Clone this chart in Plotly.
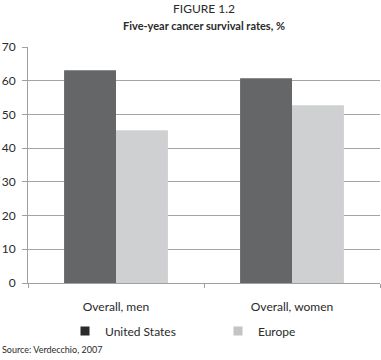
import plotly.graph_objects as go

categories = ["Overall, men", "Overall, women"]
us_values = [63.1, 60.7]
europe_values = [45.3, 52.7]
y_ticks = [0, 10, 20, 30, 40, 50, 60, 70]

FONT = "Lato"
W, H = 381, 360
ML, MR, MT, MB = 28, 1, 47, 77
plot_w = W - ML - MR
plot_h = H - MT - MB

def xpix(px):
    return (px - ML) / plot_w

def ypix(py):
    return (H - MB - py) / plot_h

fig = go.Figure()
fig.add_bar(x=categories, y=us_values, name="United States",
            marker=dict(color="#656667", line=dict(width=0)), showlegend=False)
fig.add_bar(x=categories, y=europe_values, name="Europe",
            marker=dict(color="#cfd0d1", line=dict(width=0)), showlegend=False)
# legend entries
fig.add_scatter(x=[None], y=[None], mode="markers", name="United States",
                marker=dict(symbol="square", size=9, color="#2b2b2b"))
fig.add_scatter(x=[None], y=[None], mode="markers", name="Europe",
                marker=dict(symbol="square", size=9, color="#c4c4c4"))

fig.update_layout(
    width=W, height=H,
    margin=dict(l=ML, r=MR, t=MT, b=MB, autoexpand=False),
    paper_bgcolor="white", plot_bgcolor="white",
    barmode="group", bargap=0.41, bargroupgap=0,
    font=dict(family=FONT, size=12, color="#2a2a2a"),
    showlegend=True,
    legend=dict(orientation="h", x=xpix(65), xanchor="left",
                y=ypix(331), yanchor="middle", font=dict(size=12),
                entrywidth=108, entrywidthmode="pixels",
                bgcolor="rgba(0,0,0,0)", itemclick=False, borderwidth=0),
    xaxis=dict(type="category", range=[-0.5, 1.5], showgrid=False,
               automargin=False,
               showline=True, linecolor="#a0a0a0", linewidth=1,
               ticks="outside", tickson="boundaries", ticklen=4,
               tickcolor="#a0a0a0", ticklabelstandoff=13,
               tickfont=dict(size=12, color="#2a2a2a")),
    yaxis=dict(range=[0, 70], tickvals=y_ticks, showgrid=True,
               automargin=False,
               gridcolor="#a4a4a4", gridwidth=1,
               showline=True, linecolor="#a0a0a0", linewidth=1,
               ticks="outside", ticklen=5, tickcolor="#a0a0a0",
               ticklabelstandoff=4, zeroline=False,
               tickfont=dict(size=12, color="#2a2a2a")),
    annotations=[
        dict(text="FIGURE 1.2", x=0.5, xref="paper", xanchor="center",
             y=ypix(8), yref="paper", yanchor="middle", showarrow=False,
             font=dict(size=12, color="#2a2a2a")),
        dict(text="<b>Five-year cancer survival rates, %</b>", x=0.5, xref="paper",
             xanchor="center", y=ypix(25), yref="paper", yanchor="middle",
             showarrow=False, font=dict(size=11, color="#2a2a2a")),
        dict(text="Source: Verdecchio, 2007", x=xpix(0), xref="paper", xanchor="left",
             y=ypix(349), yref="paper", yanchor="middle", showarrow=False,
             font=dict(size=9, color="#2a2a2a")),
    ],
)

# remove the browser's default 8px body margin so the figure fills the window
fig.write_html("out.html", config={"displayModeBar": False},
               post_script="document.body.style.margin='0';")
